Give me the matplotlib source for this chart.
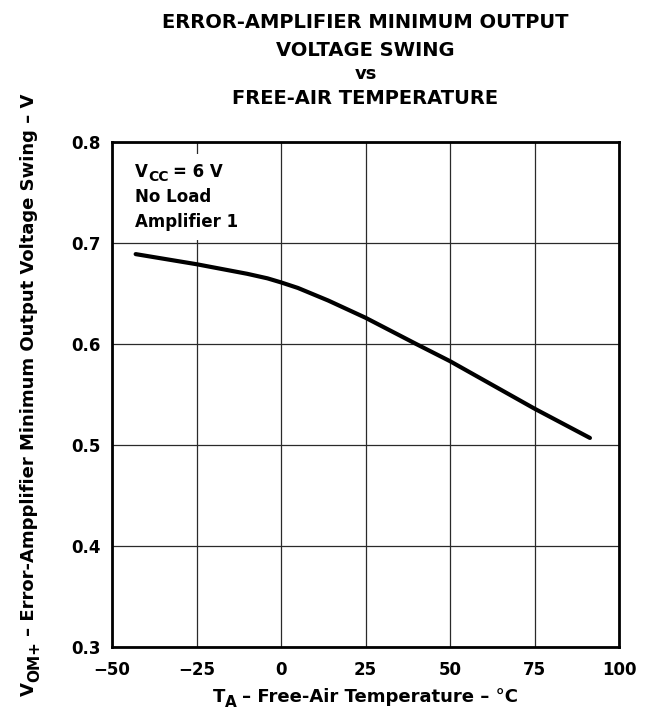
import matplotlib
matplotlib.use('Agg')
from matplotlib import pyplot as plt
from matplotlib.transforms import IdentityTransform, Bbox
from matplotlib.patches import Rectangle

# curve
temp_c = [-43, -25, -10, -4, 0, 5, 14, 25, 40, 50, 75, 91.4]
v_swing = [0.689, 0.679, 0.6695, 0.665, 0.661, 0.6555, 0.643, 0.626, 0.600, 0.583, 0.536, 0.507]

x_ticks = [-50, -25, 0, 25, 50, 75, 100]
x_tick_labels = ['\u221250', '\u221225', '0', '25', '50', '75', '100']
y_ticks = [0.3, 0.4, 0.5, 0.6, 0.7, 0.8]
y_tick_labels = ['0.3', '0.4', '0.5', '0.6', '0.7', '0.8']

title_lines = ['ERROR-AMPLIFIER MINIMUM OUTPUT', 'VOLTAGE SWING', 'vs', 'FREE-AIR TEMPERATURE']

plt.rcParams['font.family'] = ['DejaVu Sans']
plt.rcParams['font.weight'] = 'bold'

W, H = 651, 712
fig = plt.figure(figsize=(W / 100, H / 100), dpi=100)
ax = fig.add_axes([112 / W, 1 - 647 / H, 507 / W, 505 / H])

ax.plot(temp_c, v_swing, color='black', lw=3, solid_capstyle='round',
        solid_joinstyle='round', zorder=3)

ax.set_xlim(-50, 100)
ax.set_ylim(0.3, 0.8)
ax.set_xticks(x_ticks)
ax.set_xticklabels(x_tick_labels)
ax.set_yticks(y_ticks)
ax.set_yticklabels(y_tick_labels)
ax.tick_params(length=0, labelsize=12)
ax.tick_params(axis='x', pad=10)
ax.tick_params(axis='y', pad=8)
ax.grid(True, color='#2a2a2a', lw=0.9)
ax.set_axisbelow(True)
for s in ax.spines.values():
    s.set_linewidth(2)

renderer = fig.canvas.get_renderer()


def pieces_text(x0, y0, pieces, rot=0, center=False):
    # draw text made of pieces (text, size, drop_px, gap_px) along one baseline, pixel coords
    arts = []
    pos = 0.0
    for s, size, drop, gap in pieces:
        pos += gap
        t = fig.text(0, 0, s, transform=IdentityTransform(), fontsize=size, fontweight='bold',
                     rotation=rot, rotation_mode='anchor', ha='left', va='baseline')
        arts.append((t, pos, drop))
        bb = t.get_window_extent(renderer)
        pos += bb.width if rot == 0 else bb.height
    shift = pos / 2 if center else 0
    for t, p, drop in arts:
        if rot == 0:
            t.set_position((x0 + p - shift, H - y0 - drop))
        else:
            t.set_position((x0 + drop, H - y0 + p - shift))
    return [a[0] for a in arts]


# note box, three lines with white background over the grid
box_texts = []
box_texts += pieces_text(135, 177, [('V', 12, 0, 0), ('CC', 10, 4, 0), ('= 6 V', 12, 0, 5)])
box_texts += pieces_text(135, 202, [('No Load', 12, 0, 0)])
box_texts += pieces_text(135, 227, [('Amplifier 1', 12, 0, 0)])
bb = Bbox.union([t.get_window_extent(renderer) for t in box_texts]).padded(9)
ax.add_patch(Rectangle((bb.x0, bb.y0), bb.width, bb.height, transform=IdentityTransform(),
                       facecolor='white', edgecolor='none', zorder=2))

# axis labels
pieces_text(365.5, 702, [('T', 13, 0, 0), ('A', 11, 5, 0),
                         ('\u2013 Free-Air Temperature \u2013 \u00b0C', 13, 0, 5)], center=True)
pieces_text(34, 394.5, [('V', 13, 0, 0), ('OM+', 11, 5, 0),
                        ('\u2013 Error-Ampplifier Minimum Output Voltage Swing \u2013 V', 13, 0, 5)],
            rot=90, center=True)

# title, four centred lines over the plot
title_y = [22, 51, 74, 99]
title_size = [14, 14, 13, 14]
for line, yy, sz in zip(title_lines, title_y, title_size):
    fig.text(365.5 / W, 1 - yy / H, line, ha='center', va='center', fontsize=sz, fontweight='bold')

fig.savefig('out.png', dpi=100)
